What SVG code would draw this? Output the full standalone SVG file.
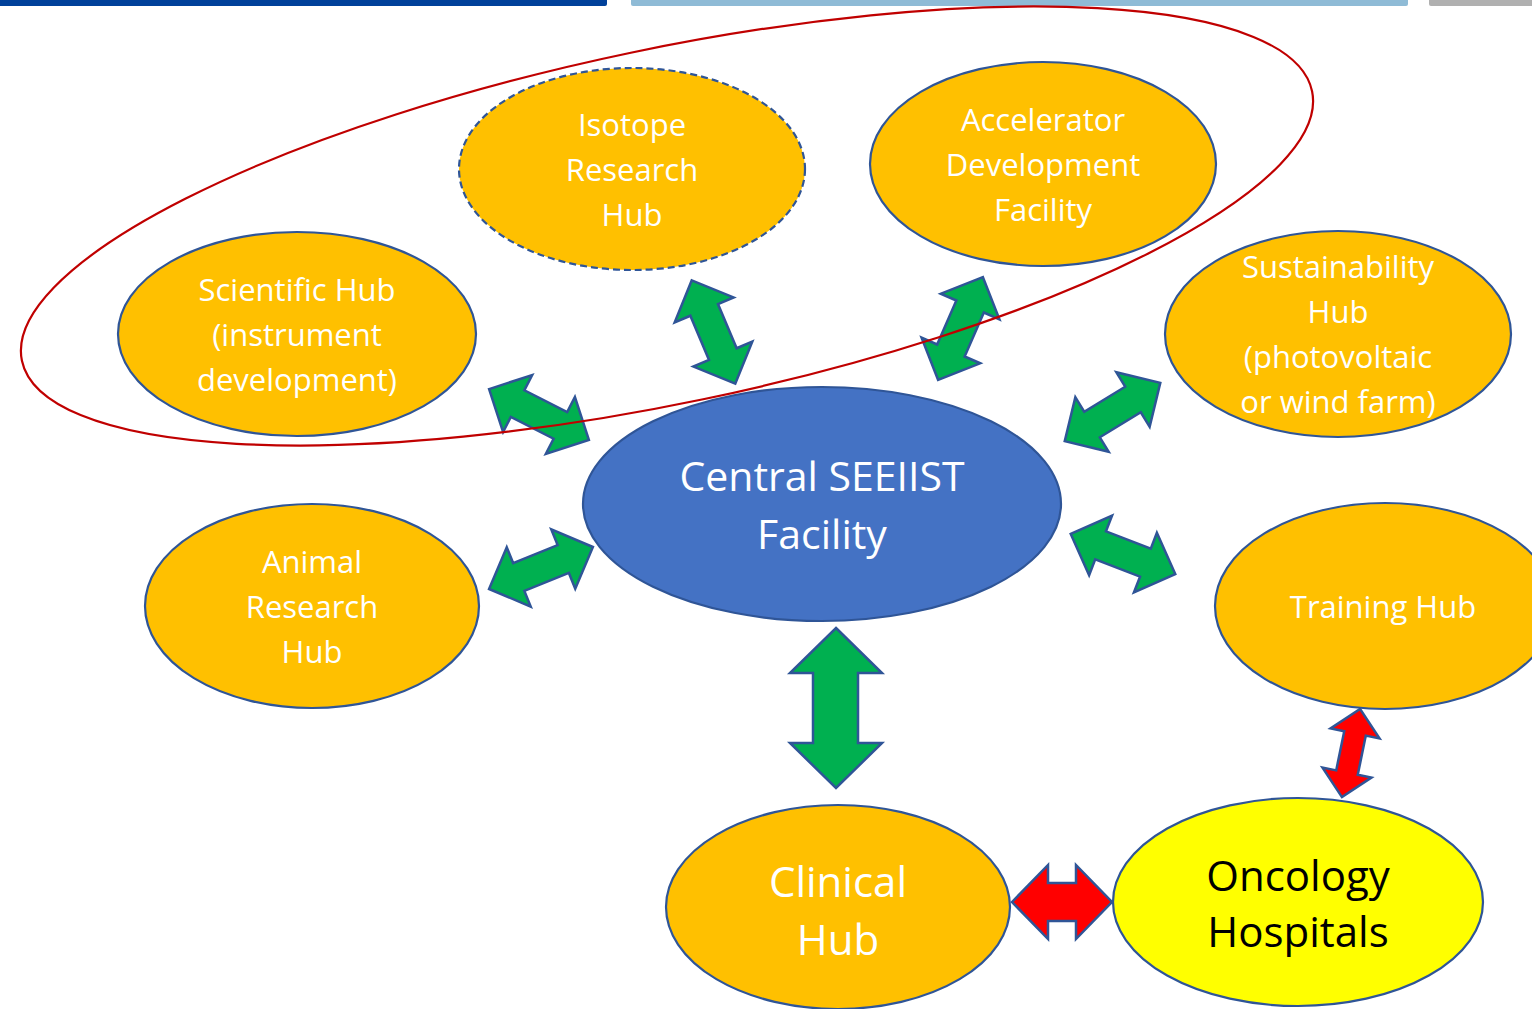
<svg xmlns="http://www.w3.org/2000/svg" width="1532" height="1009" viewBox="0 0 1532 1009">
<style>
.hub{fill:#FFC000;stroke:#2F5597;stroke-width:2.2}
.t{font-family:"Open Sans","Liberation Sans",sans-serif;fill:#FFFFFF;text-anchor:middle}
.s{font-size:31px}
.g{fill:#00B050;stroke:#2F5597;stroke-width:2.5;stroke-linejoin:miter}
.r{fill:#FF0000;stroke:#2F5597;stroke-width:2.5;stroke-linejoin:miter}
</style>
<defs>
<path id="ga" d="M-56,0 L-24,-32 L-24,-15 L24,-15 L24,-32 L56,0 L24,32 L24,15 L-24,15 L-24,32 Z"/>
</defs>
<rect width="1532" height="1009" fill="#FFFFFF"/>
<g id="topbars">
<rect x="-4" y="-4" width="611" height="10" rx="2" fill="#00419A"/>
<rect x="631" y="-4" width="777" height="10" rx="2" fill="#8FBBD6"/>
<rect x="1429" y="-4" width="110" height="10" rx="2" fill="#B0B0B0"/>
</g>
<g id="connectors">
<use href="#ga" class="g" transform="translate(539,414.5) rotate(27)"/>
<use href="#ga" class="g" transform="translate(713.5,332) rotate(67.1)"/>
<use href="#ga" class="g" transform="translate(960.5,328.5) rotate(113.6)"/>
<use href="#ga" class="g" transform="translate(1112.5,412) rotate(-31.4)"/>
<use href="#ga" class="g" transform="translate(541,568) rotate(-22)"/>
<use href="#ga" class="g" transform="translate(1123,554) rotate(21)"/>
<path class="g" d="M836,628 L882,673 L858,673 L858,743 L882,743 L836,788 L790,743 L813,743 L813,673 L790,673 Z"/>
<path class="r" d="M1012,902 L1048,865 L1048,883 L1076,883 L1076,865 L1112,902 L1076,939 L1076,921 L1048,921 L1048,939 Z"/>
<path class="r" transform="translate(1351,753) rotate(101.6)" d="M-45,0 L-20,-25 L-20,-11 L20,-11 L20,-25 L45,0 L20,25 L20,11 L-20,11 L-20,25 Z"/>
</g>
<g id="central">
<ellipse cx="822" cy="504" rx="239" ry="117" fill="#4472C4" stroke="#2F5597" stroke-width="2.2"/>
<text class="t" x="822" y="491" font-size="41">Central SEEIIST</text>
<text class="t" x="822" y="549" font-size="41">Facility</text>
</g>
<g id="scientific">
<ellipse class="hub" cx="297" cy="334" rx="179" ry="102"/>
<text class="t s" x="297" y="301">Scientific Hub</text>
<text class="t s" x="297" y="346">(instrument</text>
<text class="t s" x="297" y="391">development)</text>
</g>
<g id="isotope">
<ellipse class="hub" cx="632" cy="169" rx="173" ry="101" stroke-dasharray="7,4"/>
<text class="t s" x="632" y="136">Isotope</text>
<text class="t s" x="632" y="181">Research</text>
<text class="t s" x="632" y="226">Hub</text>
</g>
<g id="accelerator">
<ellipse class="hub" cx="1043" cy="164" rx="173" ry="102"/>
<text class="t s" x="1043" y="131">Accelerator</text>
<text class="t s" x="1043" y="176">Development</text>
<text class="t s" x="1043" y="221">Facility</text>
</g>
<g id="sustainability">
<ellipse class="hub" cx="1338" cy="334" rx="173" ry="103"/>
<text class="t s" x="1338" y="278">Sustainability</text>
<text class="t s" x="1338" y="323">Hub</text>
<text class="t s" x="1338" y="368">(photovoltaic</text>
<text class="t s" x="1338" y="413">or wind farm)</text>
</g>
<g id="animal">
<ellipse class="hub" cx="312" cy="606" rx="167" ry="102"/>
<text class="t s" x="312" y="573">Animal</text>
<text class="t s" x="312" y="618">Research</text>
<text class="t s" x="312" y="663">Hub</text>
</g>
<g id="training">
<ellipse class="hub" cx="1385" cy="606" rx="170" ry="103"/>
<text class="t s" x="1383" y="618">Training Hub</text>
</g>
<g id="clinical">
<ellipse class="hub" cx="838" cy="907" rx="172" ry="102"/>
<text class="t" x="838" y="897" font-size="42">Clinical</text>
<text class="t" x="838" y="955" font-size="42">Hub</text>
</g>
<g id="oncology">
<ellipse cx="1298" cy="902" rx="185" ry="104" fill="#FFFF00" stroke="#2F5597" stroke-width="2.2"/>
<text class="t" x="1298" y="891" font-size="42" style="fill:#000000">Oncology</text>
<text class="t" x="1298" y="947" font-size="42" style="fill:#000000">Hospitals</text>
</g>
<g id="group-outline">
<ellipse cx="667" cy="226" rx="659" ry="177" transform="rotate(-11.8 667 226)" fill="none" stroke="#C00000" stroke-width="2.2"/>
</g>
</svg>
